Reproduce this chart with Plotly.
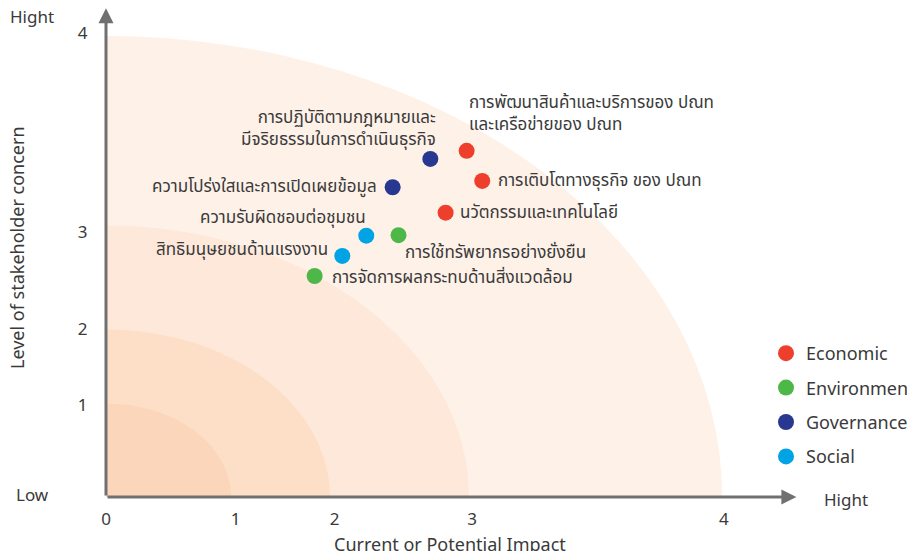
import plotly.graph_objects as go

# ---- data (axis units; zone radii carry the 0-4 level ticks) ----
zone_radii = [0.81, 1.45, 2.35, 3.99]
zone_colors = ["#FCD6BA", "#FDDEC6", "#FDE8DA", "#FEF1E8"]
tick_labels = ["0", "1", "2", "3", "4"]
x_tick_at = [0, 0.84, 1.48, 2.37, 4.0]
y_tick_at = [0.0001, 0.80, 1.45, 2.29, 4.02]

categories = ["Economic", "Environment", "Governance", "Social"]
cat_colors = ["#EE3F2D", "#4DB848", "#283891", "#00A3E4"]

issues = [
    "การปฏิบัติตามกฎหมายและ<br>มีจริยธรรมในการดำเนินธุรกิจ",
    "การพัฒนาสินค้าและบริการของ ปณท<br>และเครือข่ายของ ปณท",
    "การเติบโตทางธุรกิจ ของ ปณท",
    "ความโปร่งใสและการเปิดเผยข้อมูล",
    "นวัตกรรมและเทคโนโลยี",
    "ความรับผิดชอบต่อชุมชน",
    "การใช้ทรัพยากรอย่างยั่งยืน",
    "สิทธิมนุษยชนด้านแรงงาน",
    "การจัดการผลกระทบด้านสิ่งแวดล้อม",
]
issue_cat = ["Governance", "Economic", "Economic", "Governance", "Economic",
             "Social", "Environment", "Social", "Environment"]
impact = [2.10, 2.335, 2.436, 1.856, 2.199, 1.685, 1.894, 1.530, 1.351]
concern = [2.926, 2.996, 2.736, 2.681, 2.461, 2.262, 2.266, 2.087, 1.913]

x_max, y_max = 4.5, 4.25
FONT = "Noto Sans Thai, Noto Sans, Lato, sans-serif"
TXT = "#3a3a3a"

fig = go.Figure()

for cat, col in zip(categories, cat_colors):
    xs = [impact[i] for i in range(len(issues)) if issue_cat[i] == cat]
    ys = [concern[i] for i in range(len(issues)) if issue_cat[i] == cat]
    fig.add_trace(go.Scatter(x=xs, y=ys, mode="markers", name=cat,
                             legendgroup=cat,
                             marker=dict(size=16, color=col, line=dict(width=0))))

# zones (largest first)
for r, c in sorted(zip(zone_radii, zone_colors), reverse=True):
    fig.add_shape(type="circle", xref="x", yref="y", x0=-r, x1=r, y0=-r, y1=r,
                  fillcolor=c, line=dict(width=0), layer="below")

# label placements: (xanchor, xshift, yshift, align)
place = [
    ("right", 8, 30, "right"),
    ("left", 0, 37, "left"),
    ("left", 14, 0, "left"),
    ("right", -14, 0, "right"),
    ("left", 12, 0, "left"),
    ("right", 2, 18, "right"),
    ("left", 4, -18, "left"),
    ("right", -12, 6, "right"),
    ("left", 15, -2, "left"),
]
for i, txt in enumerate(issues):
    xa, xs, ys, al = place[i]
    fig.add_annotation(x=impact[i], y=concern[i], text=txt, showarrow=False,
                       xanchor=xa, yanchor="middle", xshift=xs, yshift=ys, align=al,
                       font=dict(family=FONT, size=17, color=TXT))

# axis arrows
fig.add_annotation(x=x_max - 0.03, y=0, ax=0, ay=0, xref="x", yref="y",
                   axref="x", ayref="y", showarrow=True, arrowhead=2,
                   arrowsize=1, arrowwidth=3, arrowcolor="#707070", text="")
fig.add_annotation(x=0, y=y_max - 0.02, ax=0, ay=0, xref="x", yref="y",
                   axref="x", ayref="y", showarrow=True, arrowhead=2,
                   arrowsize=1, arrowwidth=3, arrowcolor="#707070", text="")

# corner words and axis titles
def ptxt(x, y, t, size=17, angle=0, xa="center"):
    fig.add_annotation(x=x, y=y, xref="paper", yref="paper", text=t,
                       showarrow=False, textangle=angle, xanchor=xa, yanchor="middle",
                       font=dict(family=FONT, size=size, color=TXT))

W, H = 907, 551
L, R, T, B = 106, 106, 6, 54
pw, ph = W - L - R, H - T - B
px = lambda p: (p - L) / pw
py = lambda p: (H - B - p) / ph

ptxt(px(32), py(18), "Hight")
ptxt(px(32), py(496), "Low")
ptxt(px(846), py(501), "Hight")
ptxt(px(450), py(545), "Current or Potential Impact", size=18)
ptxt(px(18), py(248), "Level of stakeholder concern", size=18, angle=-90)

axis_common = dict(showgrid=False, zeroline=False, showline=False,
                   ticks="outside", tickcolor="rgba(0,0,0,0)",
                   tickfont=dict(family=FONT, size=17, color=TXT))
fig.update_xaxes(range=[0, x_max], tickvals=x_tick_at, ticktext=tick_labels,
                 ticklen=7, **axis_common)
fig.update_yaxes(range=[0, y_max], tickvals=y_tick_at,
                 ticktext=[""] + tick_labels[1:], ticklen=14, **axis_common)

fig.update_layout(
    width=W, height=H, margin=dict(l=L, r=R, t=T, b=B, autoexpand=False),
    plot_bgcolor="white", paper_bgcolor="white",
    showlegend=True,
    legend=dict(x=px(766), y=py(335), xanchor="left", yanchor="top",
                font=dict(family=FONT, size=18, color=TXT),
                tracegroupgap=8, bgcolor="rgba(0,0,0,0)", itemwidth=30,
                itemsizing="trace"),
)
fig.write_html("out.html", config={"displayModeBar": False},
               post_script="document.body.style.margin='0px';document.body.style.overflow='hidden';")
